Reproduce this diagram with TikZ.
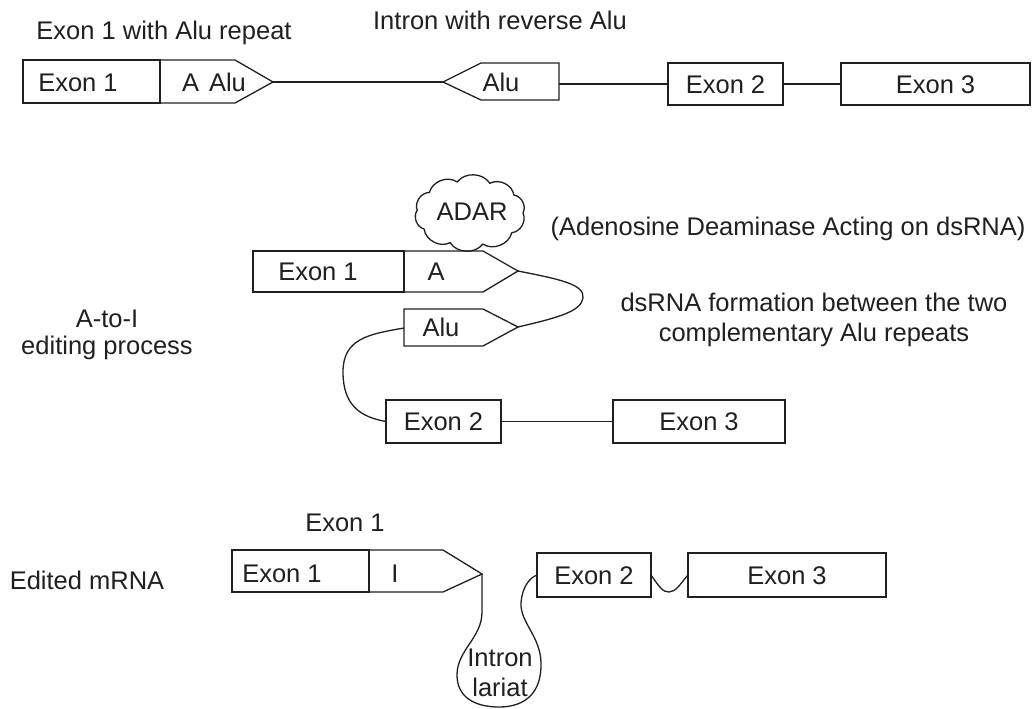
\documentclass[tikz,border=0pt]{standalone}
\usepackage{fontspec}
\setmainfont{Liberation Sans}
\definecolor{ink}{HTML}{231F20}
\begin{document}
\begin{tikzpicture}[x=1pt,y=-1pt,
  every node/.style={font=\fontsize{25.5}{29}\selectfont, text=ink, inner sep=0pt, outer sep=0pt, text height=18.3pt, text depth=0pt},
  line/.style={draw=ink, line width=1.3pt, line join=miter},
  exbox/.style={line, rectangle}
]
\useasboundingbox[fill=white] (0,0) rectangle (1033,709);

% ---------- Row 1 ----------
\node (t1) at (164,30) {Exon 1 with Alu repeat};
\node (t2) at (500,20) {Intron with reverse Alu};

\node[exbox, minimum width=137pt, minimum height=43pt] (aE1) at (91.5,81.5) {};
\node (aE1t) at (78,82) {Exon 1};
\coordinate (aTip) at (273,82);
\draw[line] (aE1.north east) -- (235,60) -- (aTip) -- (235,103) -- (aE1.south east);
\node (aAlu) at (214,82) {A\hspace{10pt}Alu};

\coordinate (bTip) at (443,82);
\coordinate (bR) at (559,84);
\draw[line] (bTip) -- (481,63) -- (559,63) -- (559,100) -- (481,100) -- cycle;
\node (bAlu) at (501,82) {Alu};
\draw[line] (aTip) -- (bTip);

\node[exbox, minimum width=115pt, minimum height=42pt] (aE2) at (725.5,84) {Exon 2};
\node[exbox, minimum width=189pt, minimum height=42pt] (aE3) at (935.5,84) {Exon 3};
\draw[line] (bR) -- (aE2.west);
\draw[line] (aE2.east) -- (aE3.west);

% ---------- Row 2 ----------
\node (adar) at (472,211) {ADAR};
\draw[line] (470+53,213)
  \foreach \a in {38,76,112,150,185,220,256,292,326,360} { to[bend left=55] ({470+53*cos(\a)},{213+32*sin(\a)}) } -- cycle;
\node (adarT) at (788,226) {(Adenosine Deaminase Acting on dsRNA)};

\node[exbox, minimum width=151pt, minimum height=41pt] (bE1) at (328.5,271.5) {};
\node (bE1t) at (318,271) {Exon 1};
\coordinate (cTipA) at (518,271);
\draw[line] (bE1.north east) -- (483,251) -- (cTipA) -- (483,292) -- (bE1.south east);
\node (cA) at (436,271) {A};

\coordinate (cTipB) at (518,327);
\coordinate (cAluL) at (404,328);
\draw[line] (404,309) -- (483,309) -- (cTipB) -- (483,346) -- (404,346) -- cycle;
\node (cAlu) at (441,327) {Alu};

\draw[line] (cTipA) .. controls (558,279) and (585,284) .. (583,298) .. controls (581,312) and (556,318) .. (cTipB);

\node[exbox, minimum width=115pt, minimum height=43pt] (bE2) at (443.5,421.5) {Exon 2};
\node[exbox, minimum width=172pt, minimum height=43pt] (bE3) at (699,421.5) {Exon 3};
\draw[line] (bE2.east) -- (bE3.west);
\draw[line] (cAluL) .. controls (370,334) and (343,338) .. (343,372) .. controls (343,405) and (360,417) .. (bE2.west);

\node (ds1) at (814,302) {dsRNA formation between the two};
\node (ds2) at (814,332) {complementary Alu repeats};
\node (ed1) at (107,318) {A-to-I};
\node (ed2) at (107,345) {editing process};

% ---------- Row 3 ----------
\node (r3t) at (345,522) {Exon 1};
\node (r3l) at (87,580) {Edited mRNA};
\node[exbox, minimum width=137pt, minimum height=42pt] (cE1) at (300.5,571) {};
\node (cE1t) at (282,573) {Exon 1};
\coordinate (dTip) at (482,574);
\draw[line] (cE1.north east) -- (443,550) -- (dTip) -- (443,592) -- (cE1.south east);
\node (dI) at (395,573) {I};

\node[exbox, minimum width=114pt, minimum height=44pt] (cE2) at (594,575) {Exon 2};
\node[exbox, minimum width=198pt, minimum height=44pt] (cE3) at (787,575) {Exon 3};

\draw[line] (dTip) -- (482,612) .. controls (482,638) and (457,650) .. (457,675)
  .. controls (457,698) and (476,707) .. (499,707)
  .. controls (526,707) and (542,692) .. (541,662)
  .. controls (540,636) and (520,622) .. (521,603)
  .. controls (522,588) and (529,578) .. (cE2.west);
\node (lar1) at (500,657) {Intron};
\node (lar2) at (500,687) {lariat};

\draw[line] (cE2.east) .. controls (660,588) and (663,592) .. (669,592) .. controls (676,592) and (680,584) .. (cE3.west);
\end{tikzpicture}
\end{document}
